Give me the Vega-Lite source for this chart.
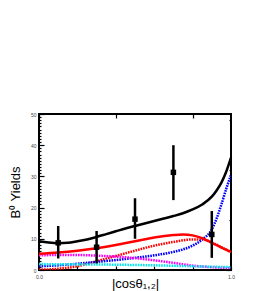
{
  "$schema": "https://vega.github.io/schema/vega-lite/v6.json",
  "autosize": "none",
  "width": 192,
  "height": 156,
  "padding": {"left": 39, "top": 114, "right": 46, "bottom": 21},
  "background": "white",
  "config": {
    "view": {"stroke": "black", "strokeWidth": 2},
    "axis": {"domain": false, "grid": false, "labelFont": "Liberation Sans", "labelFontSize": 5, "labelColor": "#444", "tickColor": "black", "tickWidth": 1.2, "titleFont": "Liberation Sans", "titleFontSize": 13, "titleFontWeight": "normal", "titleColor": "black"}
  },
  "datasets": {
    "curves": [
      {"t": 0, "v": 9.2, "c": "total"}, {"t": 0.05, "v": 8.8, "c": "total"}, {"t": 0.1, "v": 8.6, "c": "total"}, {"t": 0.15, "v": 8.7, "c": "total"}, {"t": 0.2, "v": 9.2, "c": "total"}, {"t": 0.25, "v": 9.8, "c": "total"}, {"t": 0.3, "v": 10.6, "c": "total"}, {"t": 0.35, "v": 11.5, "c": "total"}, {"t": 0.4, "v": 12.4, "c": "total"}, {"t": 0.45, "v": 13.3, "c": "total"}, {"t": 0.5, "v": 14.1, "c": "total"}, {"t": 0.55, "v": 14.9, "c": "total"}, {"t": 0.6, "v": 15.7, "c": "total"}, {"t": 0.65, "v": 16.5, "c": "total"}, {"t": 0.7, "v": 17.3, "c": "total"}, {"t": 0.75, "v": 18.2, "c": "total"}, {"t": 0.8, "v": 19.4, "c": "total"}, {"t": 0.85, "v": 21.0, "c": "total"}, {"t": 0.9, "v": 23.5, "c": "total"}, {"t": 0.925, "v": 25.5, "c": "total"}, {"t": 0.95, "v": 28.0, "c": "total"}, {"t": 0.975, "v": 31.5, "c": "total"}, {"t": 1, "v": 36.0, "c": "total"},
      {"t": 0, "v": 5.2, "c": "red"}, {"t": 0.1, "v": 5.6, "c": "red"}, {"t": 0.2, "v": 6.2, "c": "red"}, {"t": 0.3, "v": 7.0, "c": "red"}, {"t": 0.4, "v": 8.0, "c": "red"}, {"t": 0.5, "v": 9.2, "c": "red"}, {"t": 0.6, "v": 10.4, "c": "red"}, {"t": 0.7, "v": 11.2, "c": "red"}, {"t": 0.75, "v": 11.4, "c": "red"}, {"t": 0.8, "v": 11.1, "c": "red"}, {"t": 0.85, "v": 10.2, "c": "red"}, {"t": 0.9, "v": 8.7, "c": "red"}, {"t": 0.95, "v": 7.2, "c": "red"}, {"t": 1, "v": 5.8, "c": "red"},
      {"t": 0, "v": 0.1, "c": "reddot"}, {"t": 0.1, "v": 0.4, "c": "reddot"}, {"t": 0.2, "v": 1.2, "c": "reddot"}, {"t": 0.3, "v": 2.8, "c": "reddot"}, {"t": 0.4, "v": 4.5, "c": "reddot"}, {"t": 0.5, "v": 6.2, "c": "reddot"}, {"t": 0.6, "v": 7.8, "c": "reddot"}, {"t": 0.7, "v": 9.0, "c": "reddot"}, {"t": 0.8, "v": 9.8, "c": "reddot"}, {"t": 0.85, "v": 9.8, "c": "reddot"}, {"t": 0.9, "v": 8.8, "c": "reddot"}, {"t": 0.95, "v": 7.3, "c": "reddot"}, {"t": 1, "v": 5.7, "c": "reddot"},
      {"t": 0, "v": 1.2, "c": "blue"}, {"t": 0.1, "v": 1.5, "c": "blue"}, {"t": 0.2, "v": 2.0, "c": "blue"}, {"t": 0.3, "v": 2.6, "c": "blue"}, {"t": 0.4, "v": 3.2, "c": "blue"}, {"t": 0.5, "v": 3.9, "c": "blue"}, {"t": 0.6, "v": 4.7, "c": "blue"}, {"t": 0.7, "v": 5.8, "c": "blue"}, {"t": 0.75, "v": 6.6, "c": "blue"}, {"t": 0.8, "v": 7.8, "c": "blue"}, {"t": 0.85, "v": 9.8, "c": "blue"}, {"t": 0.9, "v": 13.0, "c": "blue"}, {"t": 0.925, "v": 16.5, "c": "blue"}, {"t": 0.95, "v": 21.0, "c": "blue"}, {"t": 0.975, "v": 26.0, "c": "blue"}, {"t": 1, "v": 30.5, "c": "blue"},
      {"t": 0, "v": 4.7, "c": "magenta"}, {"t": 0.1, "v": 4.8, "c": "magenta"}, {"t": 0.2, "v": 4.8, "c": "magenta"}, {"t": 0.3, "v": 4.6, "c": "magenta"}, {"t": 0.4, "v": 4.3, "c": "magenta"}, {"t": 0.5, "v": 3.8, "c": "magenta"}, {"t": 0.6, "v": 3.1, "c": "magenta"}, {"t": 0.7, "v": 2.3, "c": "magenta"}, {"t": 0.8, "v": 1.4, "c": "magenta"}, {"t": 0.9, "v": 0.9, "c": "magenta"}, {"t": 1, "v": 0.6, "c": "magenta"},
      {"t": 0, "v": 1.9, "c": "cyan"}, {"t": 0.2, "v": 1.8, "c": "cyan"}, {"t": 0.4, "v": 1.7, "c": "cyan"}, {"t": 0.6, "v": 1.5, "c": "cyan"}, {"t": 0.8, "v": 1.2, "c": "cyan"}, {"t": 1, "v": 0.9, "c": "cyan"}
    ],
    "points": [
      {"x": 0.1, "y": 8.7, "lo": 3.7, "hi": 14.1},
      {"x": 0.3, "y": 7.3, "lo": 2.1, "hi": 12.5},
      {"x": 0.5, "y": 16.3, "lo": 10.0, "hi": 23.0},
      {"x": 0.7, "y": 31.3, "lo": 22.4, "hi": 40.0},
      {"x": 0.9, "y": 11.4, "lo": 3.9, "hi": 18.9}
    ]
  },
  "layer": [
    {
      "data": {"name": "curves"},
      "encoding": {
        "x": {"field": "t", "type": "quantitative", "scale": {"domain": [0, 1], "nice": false},
          "axis": {"orient": "bottom", "values": [0, 0.2, 0.4, 0.6, 0.8, 1], "labelExpr": "datum.value === 0 || datum.value === 1 ? datum.label : ''", "tickSize": -4, "labelPadding": 8, "labelFlush": false, "title": "|cosθ₁,₂|", "titlePadding": -2}},
        "y": {"field": "v", "type": "quantitative", "scale": {"domain": [0, 50], "nice": false},
          "axis": {"orient": "left", "values": [0,1,2,3,4,5,6,7,8,9,10,11,12,13,14,15,16,17,18,19,20,21,22,23,24,25,26,27,28,29,30,31,32,33,34,35,36,37,38,39,40,41,42,43,44,45,46,47,48,49,50], "labelExpr": "datum.value % 10 === 0 ? datum.label : ''", "tickSize": {"condition": {"test": "datum.value % 10 === 0", "value": -5}, "value": -2}, "labelPadding": 8, "labelFlush": false, "title": "B⁰ Yields", "titlePadding": 8}}
      },
      "layer": [
        {
          "transform": [{"filter": "datum.c !== 'total' && datum.c !== 'red'"}],
          "mark": {"type": "line", "strokeWidth": 2.5, "strokeDash": [1.6, 1], "interpolate": "monotone", "clip": true},
          "encoding": {
            "color": {"field": "c", "type": "nominal", "scale": {"domain": ["reddot", "blue", "magenta", "cyan"], "range": ["#ff0000", "#0000ff", "#ff00ff", "#00e5ee"]}, "legend": null},
            "detail": {"field": "c"}
          }
        },
        {
          "transform": [{"filter": "datum.c === 'red'"}],
          "mark": {"type": "line", "strokeWidth": 2.5, "color": "#ff0000", "interpolate": "monotone"}
        },
        {
          "transform": [{"filter": "datum.c === 'total'"}],
          "mark": {"type": "line", "strokeWidth": 2.5, "color": "black", "interpolate": "monotone"}
        }
      ]
    },
    {
      "data": {"name": "points"},
      "layer": [
        {
          "mark": {"type": "rule", "strokeWidth": 2.5, "color": "black"},
          "encoding": {
            "x": {"field": "x", "type": "quantitative",
              "axis": {"orient": "top", "values": [0, 0.2, 0.4, 0.6, 0.8, 1], "labels": false, "tickSize": -4, "title": null}},
            "y": {"field": "lo", "type": "quantitative",
              "axis": {"orient": "right", "values": [0,1,2,3,4,5,6,7,8,9,10,11,12,13,14,15,16,17,18,19,20,21,22,23,24,25,26,27,28,29,30,31,32,33,34,35,36,37,38,39,40,41,42,43,44,45,46,47,48,49,50], "labels": false, "tickSize": {"condition": {"test": "datum.value % 10 === 0", "value": -5}, "value": -2}, "title": null}},
            "y2": {"field": "hi"}
          }
        },
        {
          "mark": {"type": "square", "size": 30, "filled": true, "color": "black", "opacity": 1},
          "encoding": {
            "x": {"field": "x", "type": "quantitative"},
            "y": {"field": "y", "type": "quantitative"}
          }
        }
      ]
    }
  ],
  "resolve": {"axis": {"x": "independent", "y": "independent"}}
}
